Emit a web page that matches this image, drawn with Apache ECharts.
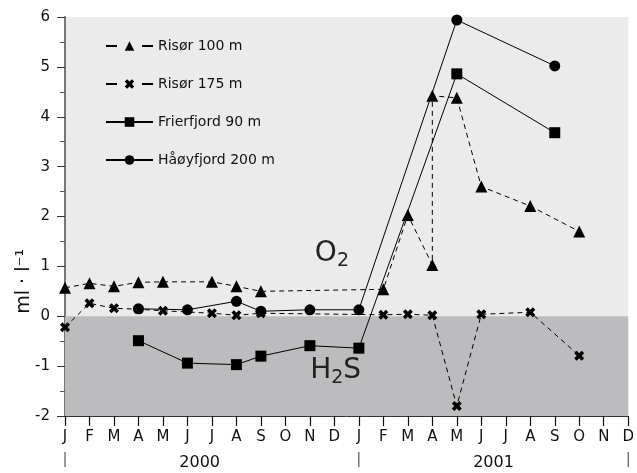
<!DOCTYPE html>
<html><head><meta charset="utf-8">
<script src="https://cdn.jsdelivr.net/npm/echarts@6/dist/echarts.min.js"></script>
<style>html,body{margin:0;padding:0;background:#fff}#c{width:637px;height:473px}</style>
</head><body><div id="c"></div>
<script>
const monthLabels = ['J','F','M','A','M','J','J','A','S','O','N','D','J','F','M','A','M','J','J','A','S','O','N','D'];
const yearLabels = ['2000','2001'];
const risor100Months = [0,1,2,3,4,6,7,8,13,14,15,15,16,17,19,21];
const risor100Values = [0.57,0.66,0.60,0.68,0.69,0.69,0.60,0.50,0.54,2.03,1.03,4.42,4.38,2.60,2.21,1.70];
const risor175Months = [0,1,2,3,4,6,7,8,13,14,15,16,17,19,21];
const risor175Values = [-0.22,0.26,0.16,0.14,0.11,0.06,0.02,0.06,0.03,0.04,0.02,-1.80,0.04,0.08,-0.79];
const frierMonths = [3,5,7,8,10,12,16,20];
const frierValues = [-0.49,-0.94,-0.97,-0.80,-0.59,-0.64,4.86,3.68];
const haoyMonths = [3,5,7,8,10,12,16,20];
const haoyValues = [0.15,0.13,0.30,0.10,0.13,0.13,5.94,5.02];

const FONT = "'DejaVu Sans',sans-serif";
const TXT = '#111';
const xMark = 'path://M0,2.5 L2.5,0 L5,2.5 L7.5,0 L10,2.5 L7.5,5 L10,7.5 L7.5,10 L5,7.5 L2.5,10 L0,7.5 L2.5,5 Z';
function pairs(xs, ys){ return xs.map((x,i)=>[x, ys[i]]); }

const chart = echarts.init(document.getElementById('c'));
const dashed = {color:'#000', width:1, type:[5,4]};
const solid = {color:'#000', width:1};
const legendDash = {type:[11,25], width:2};
chart.setOption({
  animation:false,
  backgroundColor:'#fff',
  grid:{left:65, right:3, top:17, bottom:57, show:true, backgroundColor:'#ebebeb', borderWidth:0},
  legend:{
    orient:'vertical', left:100, top:34, itemWidth:47, itemHeight:12, itemGap:24,
    textStyle:{fontFamily:FONT, fontSize:14, color:TXT},
    data:[
      {name:'Risør 100 m', lineStyle:legendDash},
      {name:'Risør 175 m', lineStyle:legendDash},
      {name:'Frierfjord 90 m'},
      {name:'Håøyfjord 200 m'}
    ]
  },
  xAxis:{
    type:'value', min:0, max:23, interval:1,
    axisLine:{show:true, onZero:false, lineStyle:{color:'#333', width:1}},
    axisTick:{show:true, length:10, lineStyle:{color:'#111', width:1.2}},
    axisLabel:{fontFamily:FONT, fontSize:15, color:TXT, margin:14,
      formatter:v=>monthLabels[v] ?? ''},
    splitLine:{show:false}
  },
  yAxis:{
    type:'value', min:-2, max:6, interval:1,
    axisLine:{show:true, lineStyle:{color:'#777', width:2}},
    axisTick:{show:true, length:8, lineStyle:{color:'#333', width:1}},
    minorTick:{show:true, splitNumber:2, length:5, lineStyle:{color:'#555', width:1}},
    axisLabel:{fontFamily:FONT, fontSize:15, color:TXT, margin:15},
    splitLine:{show:false}
  },
  series:[
    {name:'Risør 100 m', type:'line', data:pairs(risor100Months, risor100Values),
     symbol:'triangle', symbolSize:12, lineStyle:dashed, itemStyle:{color:'#000'}, z:5,
     markArea:{silent:true, itemStyle:{color:'#bcbcbf'}, data:[[{yAxis:-2},{yAxis:0}]]}},
    {name:'Risør 175 m', type:'line', data:pairs(risor175Months, risor175Values),
     symbol:xMark, symbolSize:10, lineStyle:dashed, itemStyle:{color:'#000'}, z:4},
    {name:'Frierfjord 90 m', type:'line', data:pairs(frierMonths, frierValues),
     symbol:'rect', symbolSize:11, lineStyle:solid, itemStyle:{color:'#000'}, z:3},
    {name:'Håøyfjord 200 m', type:'line', data:pairs(haoyMonths, haoyValues),
     symbol:'circle', symbolSize:11, lineStyle:solid, itemStyle:{color:'#000'}, z:3}
  ]
});

function px(x,y){ return chart.convertToPixel({gridIndex:0},[x,y]); }
const y0 = px(0,-2)[1];
const g = [];
[0,12,23].forEach(m=>{
  const p = px(m,-2);
  g.push({type:'line', shape:{x1:p[0], y1:y0+36, x2:p[0], y2:y0+51}, style:{stroke:'#333', lineWidth:1}});
});
yearLabels.forEach((t,i)=>{
  const p = px(5.5+12*i,-2);
  g.push({type:'text', x:p[0], y:y0+47, style:{text:t, font:"16px "+FONT, fill:TXT, textAlign:'center', textVerticalAlign:'middle'}});
});
const o2 = px(10.9,1.25), h2s = px(11.05,-1.1);
const rich = {b:{fontFamily:FONT, fontSize:28, fill:'#222'}, s:{fontFamily:FONT, fontSize:19, fill:'#222', padding:[14,0,0,0]}};
g.push({type:'text', x:o2[0], y:o2[1], style:{text:'{b|O}{s|2}', rich, textAlign:'center', textVerticalAlign:'middle'}, z:10});
g.push({type:'text', x:h2s[0], y:h2s[1], style:{text:'{b|H}{s|2}{b|S}', rich, textAlign:'center', textVerticalAlign:'middle'}, z:10});
const yl = px(0,0.7);
g.push({type:'text', x:24, y:yl[1], rotation:Math.PI/2, style:{text:'ml · l⁻¹', font:"19px "+FONT, fill:TXT, textAlign:'center', textVerticalAlign:'middle'}});
chart.setOption({graphic:g});
</script></body></html>
